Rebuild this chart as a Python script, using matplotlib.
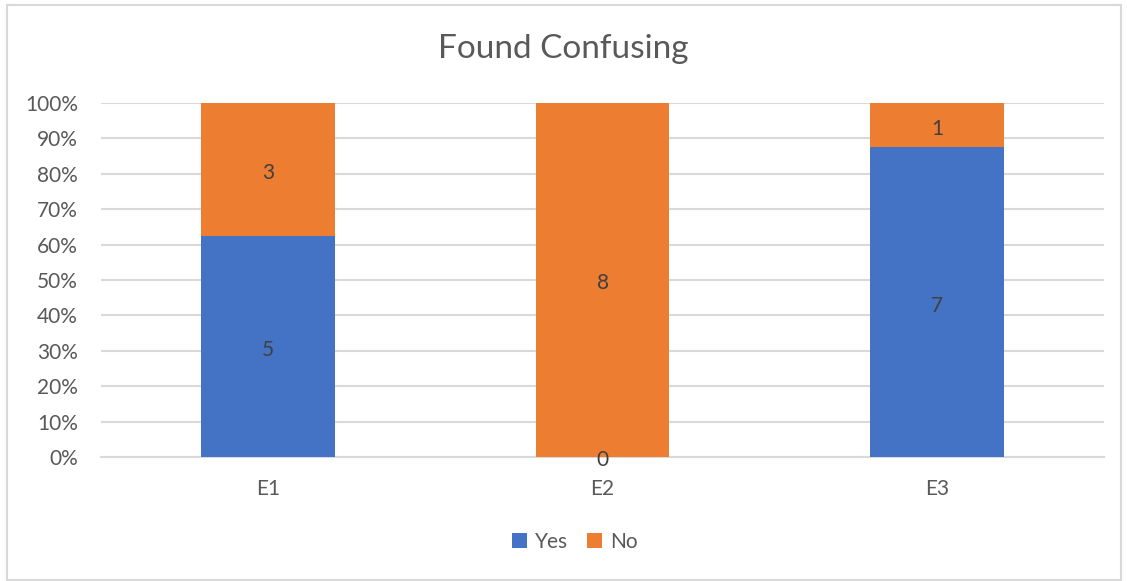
import numpy as np
import matplotlib
matplotlib.use("Agg")
import matplotlib.pyplot as plt
from matplotlib.ticker import PercentFormatter

plt.rcParams['font.family'] = ['Lato', 'DejaVu Sans']

categories = ["E1", "E2", "E3"]
yes_counts = [5, 0, 7]
no_counts = [3, 8, 1]

blue = "#4472C4"
orange = "#ED7D31"
grid = "#D9D9D9"
tick_col = "#595959"
lbl_col = "#404040"

yes = np.array(yes_counts, dtype=float)
no = np.array(no_counts, dtype=float)
tot = yes + no
yes_pct = yes / tot * 100
no_pct = no / tot * 100

fig = plt.figure(figsize=(11.27, 5.81), dpi=100)
ax = fig.add_axes([101 / 1127, 1 - 457 / 581, 1003 / 1127, 354 / 581])

x = np.arange(len(categories))
b1 = ax.bar(x, yes_pct, width=0.4, color=blue, label="Yes", zorder=3)
b2 = ax.bar(x, no_pct, width=0.4, bottom=yes_pct, color=orange, label="No", zorder=3)

l1 = ax.bar_label(b1, labels=[str(v) for v in yes_counts], label_type="center",
                  fontsize=15, color=lbl_col)
l2 = ax.bar_label(b2, labels=[str(v) for v in no_counts], label_type="center",
                  fontsize=15, color=lbl_col)
# nudge value labels down a touch, like the original
for t in list(l1) + list(l2):
    t.xyann = (0, -2.5)

ax.set_xlim(-0.5, 2.5)
ax.set_ylim(0, 100)
ax.set_yticks(np.arange(0, 101, 10))
ax.yaxis.set_major_formatter(PercentFormatter(decimals=0))
ax.set_xticks(x)
ax.set_xticklabels(categories)
ax.tick_params(length=0, labelsize=15, colors=tick_col)
ax.tick_params(axis="y", pad=16.5)
ax.tick_params(axis="x", pad=15.5)
ax.grid(axis="y", color=grid, linewidth=1.5, zorder=0)
for s in ["top", "right", "left"]:
    ax.spines[s].set_visible(False)
ax.spines["bottom"].set_color(grid)
ax.spines["bottom"].set_linewidth(1.5)

fig.text(0.5, 1 - 49 / 581, "Found Confusing", ha="center", va="center",
         fontsize=24, color=tick_col)

fig.legend(handles=[b1, b2], loc="center", bbox_to_anchor=(575 / 1127, 1 - 542 / 581),
           ncol=2, frameon=False, fontsize=15, labelcolor=tick_col,
           handlelength=0.7, handleheight=0.7, handletextpad=0.4, columnspacing=0.9)

fig.patches.append(plt.Rectangle((7 / 1127, 1 / 581), 1114 / 1127, 575 / 581,
                                 transform=fig.transFigure, fill=False,
                                 edgecolor=grid, linewidth=1.5))

fig.savefig("out.png", dpi=100)
